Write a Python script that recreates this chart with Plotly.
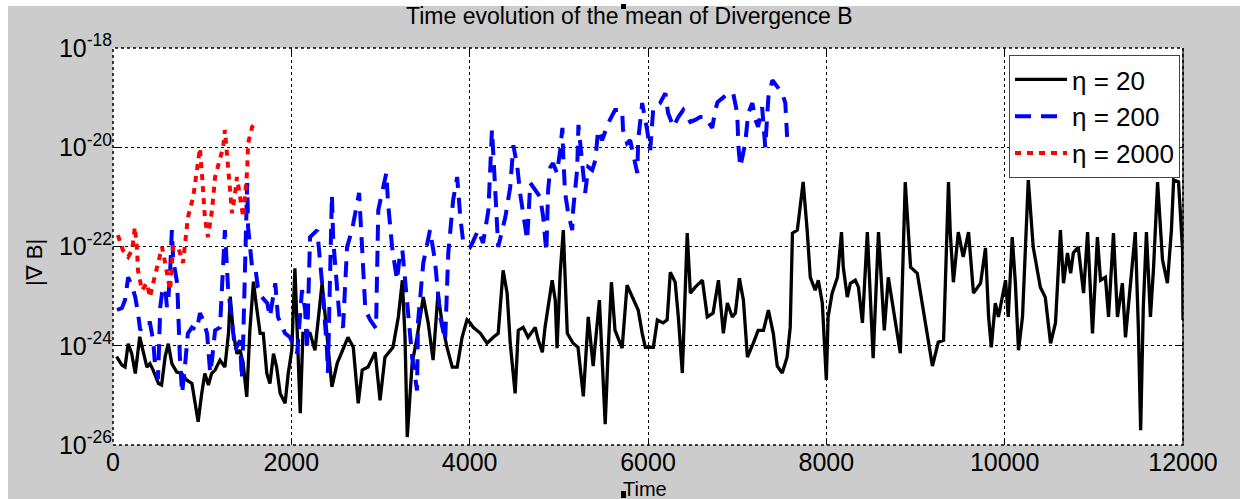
import numpy as np
import plotly.graph_objects as go

# Mean |div B| over time for three values of eta (values stored as log10)
time_eta20 = [40, 100, 135, 170, 210, 250, 300, 340, 380, 415, 450, 510, 545, 585, 620, 660, 715, 770, 825, 885,
              920, 955, 995, 1030, 1070, 1105, 1145, 1200, 1255, 1295, 1315, 1350, 1390, 1425, 1460, 1500, 1535, 1575,
              1610, 1650, 1685, 1725, 1760, 1800, 1835, 1875, 1930, 1965, 2005, 2040, 2100, 2130, 2210, 2265, 2345,
              2400, 2455, 2515, 2570, 2635, 2695, 2750, 2795, 2860, 2940, 2995, 3050, 3140, 3200, 3245, 3275, 3300,
              3355, 3410, 3480, 3535, 3590, 3645, 3690, 3745, 3805, 3860, 3915, 3970, 4005, 4040, 4120, 4195, 4265,
              4320, 4375, 4420, 4455, 4510, 4545, 4600, 4655, 4735, 4770, 4815, 4845, 4925, 4960, 4980, 5015, 5050,
              5095, 5160, 5215, 5275, 5330, 5385, 5455, 5485, 5520, 5555, 5590, 5630, 5710, 5765, 5835, 5890, 5935,
              5970, 6060, 6105, 6170, 6215, 6250, 6305, 6340, 6385, 6440, 6475, 6530, 6610, 6665, 6730, 6790, 6845,
              6890, 6945, 6980, 7025, 7070, 7115, 7180, 7235, 7295, 7350, 7405, 7450, 7505, 7560, 7595, 7620, 7675,
              7710, 7740, 7785, 7820, 7875, 7910, 7955, 8000, 8020, 8065, 8125, 8170, 8190, 8235, 8270, 8325, 8360,
              8405, 8460, 8495, 8525, 8585, 8630, 8650, 8695, 8750, 8830, 8885, 8945, 9020, 9090, 9190, 9255, 9315,
              9370, 9390, 9425, 9480, 9535, 9595, 9650, 9730, 9785, 9820, 9850, 9895, 9930, 10010, 10040, 10085,
              10120, 10155, 10200, 10265, 10320, 10400, 10455, 10515, 10570, 10625, 10660, 10705, 10740, 10770,
              10825, 10885, 10930, 10985, 11040, 11075, 11130, 11165, 11220, 11265, 11320, 11355, 11465, 11500,
              11525, 11555, 11590, 11635, 11670, 11715, 11770, 11825, 11870, 11895, 11950, 11995, 12000]
log_divb_eta20 = [-24.22, -24.39, -24.43, -23.96, -24.16, -24.56, -23.82, -24.16, -24.43, -24.36, -24.49, -24.76,
                  -24.79, -24.22, -23.96, -24.36, -24.53, -24.56, -24.69, -24.76, -25.10, -25.53, -24.96, -24.56,
                  -24.79, -24.56, -24.49, -24.29, -24.43, -23.75, -23.01, -23.75, -24.16, -24.09, -24.36, -25.03,
                  -23.69, -22.71, -23.22, -23.75, -23.75, -24.56, -24.76, -24.16, -24.43, -24.96, -25.16, -24.56,
                  -24.09, -22.44, -25.36, -23.75, -23.75, -24.09, -22.74, -23.83, -24.83, -24.35, -24.09, -23.83,
                  -24.03, -25.16, -24.49, -24.43, -24.13, -25.10, -24.23, -24.03, -23.42, -22.68, -23.83, -25.84,
                  -24.35, -23.83, -23.02, -23.54, -24.29, -22.94, -23.54, -24.03, -24.43, -24.43, -23.83, -23.48,
                  -23.54, -23.63, -23.75, -23.95, -23.83, -23.75, -22.48, -22.94, -23.95, -24.96, -23.69, -23.63,
                  -23.83, -23.63, -23.89, -24.13, -23.63, -22.68, -23.08, -24.05, -22.54, -21.67, -23.75, -23.95,
                  -24.03, -25.02, -23.42, -24.41, -23.08, -24.23, -25.58, -24.03, -22.72, -23.69, -24.05, -22.78,
                  -23.08, -23.28, -23.75, -24.03, -24.03, -23.48, -23.54, -23.48, -22.52, -22.72, -23.42, -24.55,
                  -21.73, -22.94, -22.82, -22.68, -23.42, -23.34, -22.68, -23.75, -23.14, -23.42, -23.34, -22.64,
                  -23.08, -24.23, -23.95, -23.69, -23.69, -23.28, -23.75, -24.41, -24.55, -24.23, -23.63, -21.73,
                  -21.67, -21.21, -20.70, -21.67, -22.62, -22.88, -22.68, -23.14, -24.69, -23.42, -22.94, -22.62,
                  -21.71, -22.42, -23.02, -22.74, -22.68, -22.82, -23.54, -21.71, -23.08, -24.25, -21.71, -23.08,
                  -23.69, -22.62, -23.28, -24.15, -20.70, -22.42, -22.54, -23.28, -24.41, -23.93, -23.89, -20.70,
                  -21.73, -22.72, -21.71, -22.21, -21.71, -22.94, -22.74, -22.03, -23.42, -24.03, -23.14, -23.42,
                  -22.68, -23.42, -21.81, -22.74, -24.09, -23.42, -20.66, -22.01, -22.82, -23.02, -23.95, -23.54,
                  -21.67, -22.74, -22.13, -22.54, -22.13, -22.01, -22.94, -21.71, -23.75, -21.81, -22.68, -22.62,
                  -23.42, -21.73, -23.42, -22.74, -23.83, -21.71, -23.69, -25.70, -23.22, -21.71, -23.42, -22.42,
                  -20.70, -22.27, -22.74, -21.67, -20.66, -20.70, -22.07, -23.48]

time_eta200 = [45, 100, 135, 170, 210, 250, 280, 305, 340, 415, 450, 470, 505, 530, 550, 585, 605, 620, 640, 660,
               675, 720, 750, 775, 810, 840, 885, 940, 975, 1010, 1055, 1090, 1110, 1145, 1200, 1235, 1255, 1290,
               1335, 1370, 1425, 1445, 1460, 1480, 1505, 1515, 1560, 1595, 1625, 1670, 1730, 1760, 1820, 1850, 1930,
               1985, 2065, 2120, 2155, 2175, 2210, 2290, 2325, 2345, 2400, 2410, 2455, 2470, 2515, 2545, 2580, 2625,
               2680, 2740, 2760, 2795, 2830, 2885, 2950, 2975, 3030, 3065, 3085, 3130, 3185, 3220, 3245, 3300, 3355,
               3410, 3420, 3480, 3525, 3555, 3610, 3670, 3725, 3760, 3815, 3860, 3895, 3925, 4005, 4030, 4095, 4150,
               4210, 4250, 4285, 4320, 4400, 4455, 4490, 4535, 4565, 4620, 4645, 4680, 4735, 4790, 4825, 4860, 4880,
               4905, 4935, 4980, 5015, 5040, 5050, 5070, 5105, 5150, 5160, 5205, 5220, 5260, 5295, 5330, 5375, 5410,
               5440, 5485, 5520, 5555, 5630, 5710, 5720, 5765, 5800, 5835, 5880, 5890, 5935, 5990, 6025, 6060, 6135,
               6195, 6225, 6285, 6340, 6395, 6475, 6530, 6585, 6640, 6720, 6755, 6780, 6835, 6900, 6955, 7000, 7015,
               7035, 7090, 7125, 7170, 7205, 7235, 7280, 7315, 7350, 7395, 7450, 7505, 7540, 7560]
log_divb_eta200 = [-23.28, -23.24, -23.08, -22.62, -22.78, -23.02, -23.34, -23.69, -23.54, -23.54, -23.89, -24.35,
                   -24.67, -23.22, -22.94, -22.82, -23.22, -23.08, -22.54, -21.67, -22.27, -22.74, -24.23, -24.96,
                   -24.35, -23.75, -23.63, -23.69, -23.34, -23.48, -23.75, -24.55, -24.29, -23.69, -23.63, -22.54,
                   -21.67, -22.82, -23.48, -24.09, -23.89, -24.67, -23.89, -22.13, -20.72, -21.61, -22.42, -22.42,
                   -22.82, -23.02, -23.14, -23.42, -22.74, -23.42, -23.75, -23.83, -24.15, -22.88, -23.28, -24.09,
                   -21.81, -21.67, -22.27, -22.74, -24.09, -24.55, -20.96, -21.87, -22.88, -23.54, -23.63, -22.01,
                   -21.67, -21.13, -20.92, -22.07, -23.28, -23.48, -23.65, -21.27, -20.86, -20.52, -21.13, -22.01,
                   -22.68, -22.13, -22.07, -23.08, -24.23, -24.90, -23.54, -22.33, -21.93, -21.67, -22.27, -23.42,
                   -23.89, -22.13, -21.06, -20.60, -21.41, -21.87, -22.01, -21.93, -21.67, -21.93, -21.27, -19.65,
                   -20.80, -22.01, -21.41, -20.80, -19.96, -20.40, -20.92, -21.61, -21.87, -20.72, -20.86, -21.00,
                   -21.41, -22.11, -20.86, -20.40, -20.32, -20.52, -20.06, -19.61, -20.20, -20.92, -21.33, -21.67,
                   -21.27, -20.46, -19.55, -20.26, -20.92, -20.40, -20.46, -20.26, -19.65, -19.86, -19.65, -19.51,
                   -19.25, -19.25, -19.65, -19.92, -19.86, -20.12, -20.52, -19.86, -19.11, -19.65, -20.06, -19.19,
                   -19.11, -18.91, -19.31, -19.59, -19.39, -19.25, -19.49, -19.45, -19.39, -19.39, -19.61, -19.25,
                   -19.09, -19.01, -18.91, -18.91, -19.31, -20.00, -20.40, -19.92, -19.31, -19.11, -19.45, -19.59,
                   -19.19, -20.00, -18.99, -18.65, -18.79, -18.91, -19.11, -19.79]

time_eta2000 = [55, 110, 170, 215, 245, 270, 280, 325, 380, 415, 450, 495, 550, 585, 640, 675, 730, 785, 810, 840,
                900, 955, 975, 1000, 1010, 1030, 1065, 1110, 1145, 1200, 1235, 1255, 1290, 1315, 1335, 1370, 1390,
                1425, 1460, 1505, 1515, 1560, 1615]
log_divb_eta2000 = [-21.77, -22.07, -22.21, -22.07, -21.61, -22.07, -22.48, -22.88, -22.74, -23.02, -22.74, -22.42,
                    -22.01, -22.33, -22.88, -22.01, -22.01, -22.33, -21.93, -21.41, -21.00, -20.32, -20.02, -20.60,
                    -21.00, -21.41, -21.81, -21.27, -20.60, -20.26, -20.00, -19.65, -20.32, -20.92, -21.33, -20.92,
                    -20.60, -21.00, -21.41, -20.46, -19.92, -19.59, -19.49]

series_names = ["η = 20", "η = 200", "η = 2000"]
y_exponents = [-26, -24, -22, -20, -18]
x_ticks = [0, 2000, 4000, 6000, 8000, 10000, 12000]

W, H = 1251, 499
L, R, T, B = 113, 1183, 48, 445
pw, ph = R - L, B - T
FONT = "Liberation Sans, Arial, Helvetica, sans-serif"


def px(x):
    return (x - L) / pw


def py(y):
    return (B - y) / ph


fig = go.Figure()
styles = [
    dict(color="black", width=3.3, dash="solid"),
    dict(color="#0000ff", width=4, dash="16px,10px"),
    dict(color="#ff0000", width=4, dash="6px,6px"),
]
for name, t, v, st in zip(series_names,
                          [time_eta20, time_eta200, time_eta2000],
                          [log_divb_eta20, log_divb_eta200, log_divb_eta2000],
                          styles):
    fig.add_trace(go.Scatter(x=t, y=10 ** np.array(v, dtype=float), mode="lines", name=name,
                             line=st))

fig.update_xaxes(range=[0, 12000], tickvals=x_ticks, ticktext=[str(v) for v in x_ticks],
                 showgrid=True, gridcolor="black", gridwidth=1, griddash="dot",
                 ticks="inside", ticklen=6, tickcolor="black", mirror="ticks",
                 showline=False, zeroline=False,
                 tickfont=dict(family=FONT, size=25, color="black"))
fig.update_yaxes(type="log", range=[-26, -18], tickvals=[10.0 ** e for e in y_exponents],
                 ticktext=[f"10<sup>{e}</sup>" for e in y_exponents],
                 showgrid=True, gridcolor="black", gridwidth=1, griddash="dot",
                 ticks="inside", ticklen=8, tickcolor="black", mirror="ticks",
                 showline=False, zeroline=False,
                 tickfont=dict(family=FONT, size=25, color="black"))

shapes = [
    # white border around the grey figure area
    dict(type="rect", xref="paper", yref="paper", x0=px(0), x1=px(8), y0=py(W), y1=py(-10),
         fillcolor="white", line_width=0, layer="above"),
    dict(type="rect", xref="paper", yref="paper", x0=px(0), x1=px(W), y0=py(6), y1=py(-10),
         fillcolor="white", line_width=0, layer="above"),
    dict(type="rect", xref="paper", yref="paper", x0=px(1240), x1=px(W + 10), y0=py(W), y1=py(-10),
         fillcolor="white", line_width=0, layer="above"),
    # axes box
    dict(type="rect", xref="paper", yref="paper", x0=0, x1=1, y0=0, y1=1,
         line=dict(color="black", width=1.5, dash="dot"), layer="above"),
    dict(type="line", xref="paper", yref="paper", x0=1, x1=1, y0=0, y1=1,
         line=dict(color="black", width=1.2), layer="above"),
    # small selection handles
    dict(type="rect", xref="paper", yref="paper", x0=px(621), x1=px(626), y0=py(9), y1=py(4),
         fillcolor="black", line_width=0, layer="above"),
    dict(type="rect", xref="paper", yref="paper", x0=px(621), x1=px(626), y0=py(498), y1=py(491),
         fillcolor="black", line_width=0, layer="above"),
]

annotations = [
    dict(text="Time evolution of the mean of Divergence B", xref="paper", yref="paper",
         x=px(629), y=py(16), xanchor="center", yanchor="middle", showarrow=False,
         font=dict(family=FONT, size=23, color="black")),
    dict(text="Time", xref="paper", yref="paper", x=px(645), y=py(489), xanchor="center",
         yanchor="middle", showarrow=False, font=dict(family=FONT, size=20, color="black")),
    dict(text="|∇ B|", xref="paper", yref="paper", x=px(34), y=py(263), xanchor="center",
         yanchor="middle", textangle=-90, showarrow=False,
         font=dict(family=FONT, size=22, color="black")),
]

fig.update_layout(
    width=W, height=H,
    margin=dict(l=L, r=W - R, t=T, b=H - B, pad=0),
    paper_bgcolor="#cccccc", plot_bgcolor="white",
    shapes=shapes, annotations=annotations,
    showlegend=True,
    legend=dict(x=px(1180), y=py(55), xanchor="right", yanchor="top",
                bgcolor="white", bordercolor="#444444", borderwidth=1,
                font=dict(family=FONT, size=26, color="black"),
                itemwidth=52, tracegroupgap=0),
)

fig.write_html("out.html")
